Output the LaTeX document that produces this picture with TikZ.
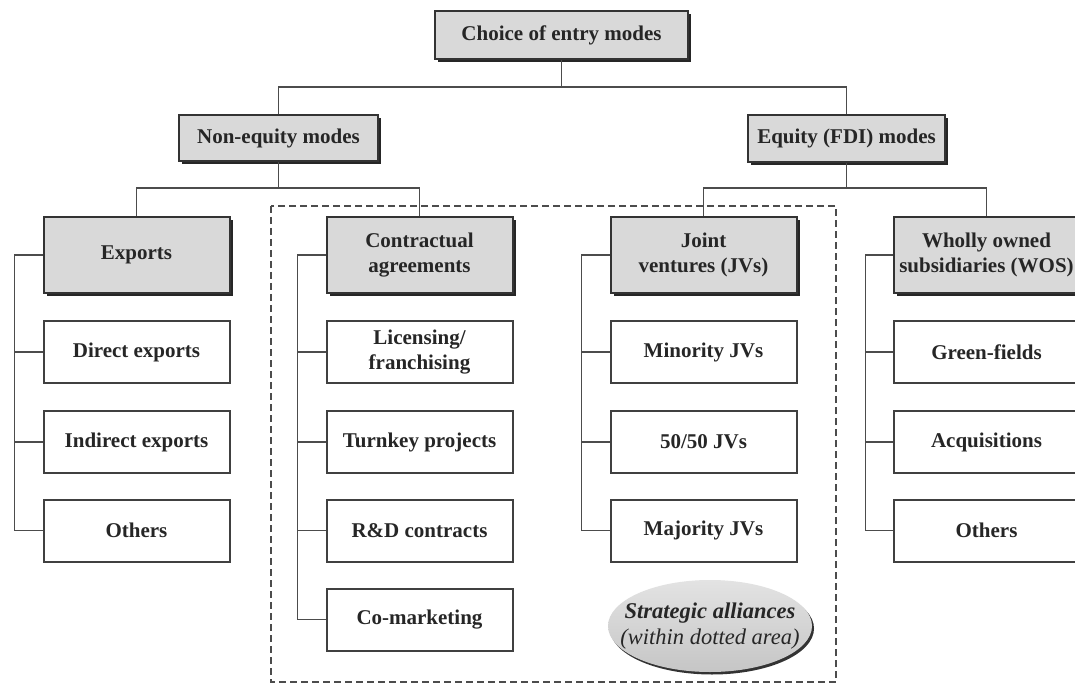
\documentclass[tikz,border=0pt]{standalone}
\usepackage{fontspec}
\setmainfont{Liberation Serif}
\usetikzlibrary{shadows,shapes.geometric}
\begin{document}
\begin{tikzpicture}[x=1pt,y=-1pt,
  lbl/.style={font=\fontsize{21}{25.5}\selectfont\bfseries, align=center, text=black!85},
  gbox/.style={lbl, draw=black!80, line width=2pt, fill=gray!30, inner sep=0pt,
    drop shadow={shadow xshift=3pt, shadow yshift=-3pt, fill=black!85, opacity=1}},
  hbox/.style={gbox, minimum width=186pt, minimum height=76pt},
  wbox/.style={lbl, draw=black!75, line width=2pt, fill=white, inner sep=0pt,
    minimum width=186pt, minimum height=62pt},
  link/.style={draw=black!70, line width=1.7pt},
  zone/.style={draw=black!70, line width=1.6pt, dash pattern=on 7pt off 4pt},
]
\clip (0,0) rectangle (1075,684);
\fill[white] (0,0) rectangle (1075,684);

% dashed alliance area
\draw[zone] (271,206) rectangle (836,682);

% level 0 and 1
\node[gbox, minimum width=253pt, minimum height=48pt] (top) at (561.5,35) {Choice of entry modes};
\node[gbox, minimum width=199pt, minimum height=46pt] (noneq) at (278.5,138) {Non-equity modes};
\node[gbox, minimum width=197pt, minimum height=47pt] (eq) at (846.5,138.5) {Equity (FDI) modes};

% level 2
\node[hbox] (exp) at (136.5,255) {Exports};
\node[hbox] (con) at (419.5,255) {Contractual\\agreements};
\node[hbox] (jv) at (703.5,255) {Joint\\ventures (JVs)};
\node[hbox] (wos) at (986.5,255) {Wholly owned\\subsidiaries (WOS)};

% exports children
\node[wbox] (e1) at (136.5,352) {Direct exports};
\node[wbox] (e2) at (136.5,442) {Indirect exports};
\node[wbox] (e3) at (136.5,530.5) {Others};

% contractual children
\node[wbox] (c1) at (419.5,352) {Licensing/\\franchising};
\node[wbox] (c2) at (419.5,442) {Turnkey projects};
\node[wbox] (c3) at (419.5,530.5) {R\&D contracts};
\node[wbox] (c4) at (419.5,619.5) {Co-marketing};

% JV children
\node[wbox] (j1) at (703.5,352) {Minority JVs};
\node[wbox] (j2) at (703.5,442) {50/50 JVs};
\node[wbox] (j3) at (703.5,530.5) {Majority JVs};

% WOS children
\node[wbox] (w1) at (986.5,352) {Green-fields};
\node[wbox] (w2) at (986.5,442) {Acquisitions};
\node[wbox] (w3) at (986.5,530.5) {Others};

% strategic alliances ellipse
\node[ellipse, minimum width=204pt, minimum height=92pt, inner sep=0pt,
  top color=gray!22, bottom color=gray!45,
  drop shadow={shadow xshift=2pt, shadow yshift=-2.5pt, fill=black!80, opacity=1}] (sa) at (710,626) {};
\node[font=\fontsize{22.5}{25.5}\selectfont, align=center, text=black!85] (satext) at (sa.center)
  {\textbf{\textit{Strategic alliances}}\\\textit{(within dotted area)}};

% connectors
\coordinate (k0) at (561.5,87);
\coordinate (k1) at (278.5,188);
\coordinate (k2) at (846.5,188);
\draw[link] (top.south) -- (k0);
\draw[link] (noneq.north) |- (k0) -| (eq.north);
\draw[link] (noneq.south) -- (k1);
\draw[link] (exp.north) |- (k1) -| (con.north);
\draw[link] (eq.south) -- (k2);
\draw[link] (jv.north) |- (k2) -| (wos.north);

\draw[link] (exp.west) -- ++(-28,0) |- (e3.west);
\draw[link] (e1.west) -- ++(-28,0);
\draw[link] (e2.west) -- ++(-28,0);

\draw[link] (con.west) -- ++(-28,0) |- (c4.west);
\draw[link] (c1.west) -- ++(-28,0);
\draw[link] (c2.west) -- ++(-28,0);
\draw[link] (c3.west) -- ++(-28,0);

\draw[link] (jv.west) -- ++(-28,0) |- (j3.west);
\draw[link] (j1.west) -- ++(-28,0);
\draw[link] (j2.west) -- ++(-28,0);

\draw[link] (wos.west) -- ++(-27,0) |- (w3.west);
\draw[link] (w1.west) -- ++(-27,0);
\draw[link] (w2.west) -- ++(-27,0);
\end{tikzpicture}
\end{document}
